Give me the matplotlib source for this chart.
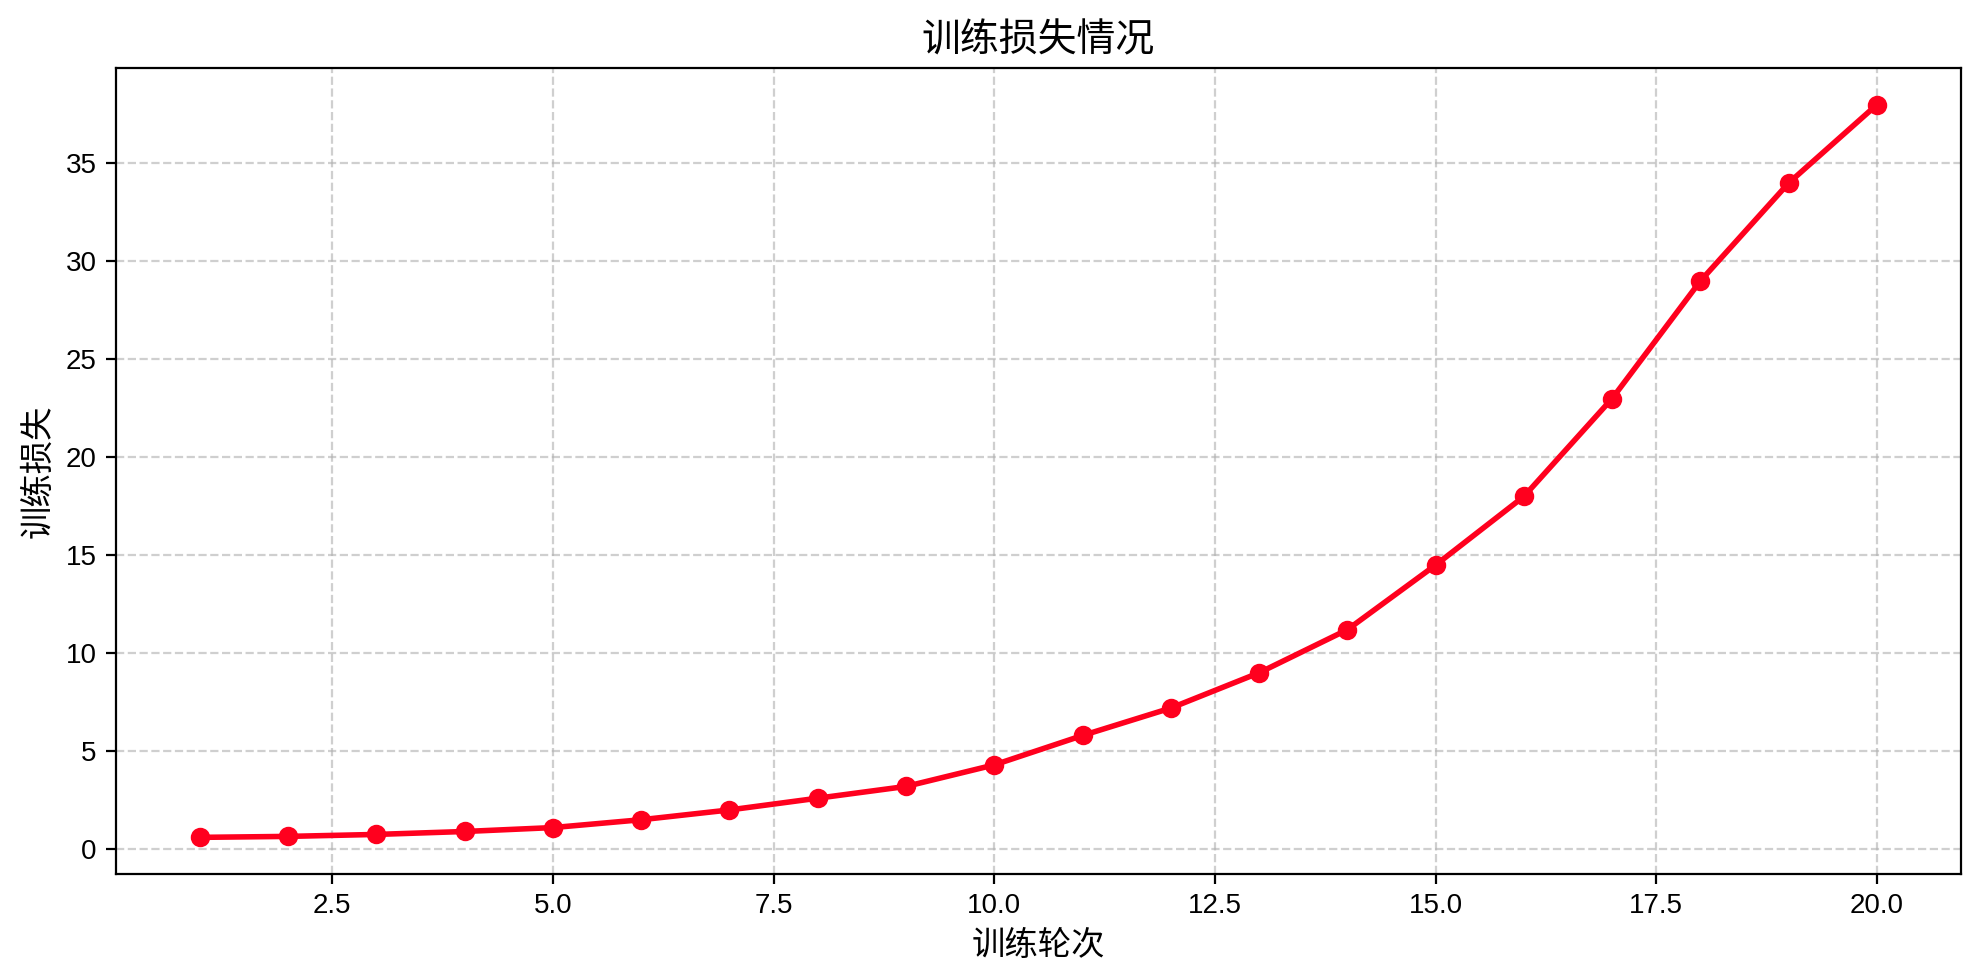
import matplotlib
matplotlib.use("Agg")
import matplotlib.pyplot as plt

plt.rcParams['font.family'] = ['Liberation Sans', 'Noto Sans CJK SC', 'DejaVu Sans']
plt.rcParams['axes.unicode_minus'] = False

epochs = list(range(1, 21))
train_loss = [0.6, 0.65, 0.75, 0.9, 1.1, 1.5, 2.0, 2.6, 3.2, 4.3,
              5.8, 7.2, 9.0, 11.2, 14.5, 18.0, 23.0, 29.0, 34.0, 38.0]

fig, ax = plt.subplots(figsize=(9.88, 4.88), dpi=200)
ax.plot(epochs, train_loss, color='#ff001e', marker='o', linewidth=2, markersize=6)
ax.set_title('训练损失情况', fontsize=14)
ax.set_xlabel('训练轮次', fontsize=12)
ax.set_ylabel('训练损失', fontsize=12)
ax.grid(True, linestyle='--', alpha=0.6)
fig.subplots_adjust(left=0.0587, right=0.9923, top=0.9303, bottom=0.1045)
fig.savefig('out.png', dpi=200)
